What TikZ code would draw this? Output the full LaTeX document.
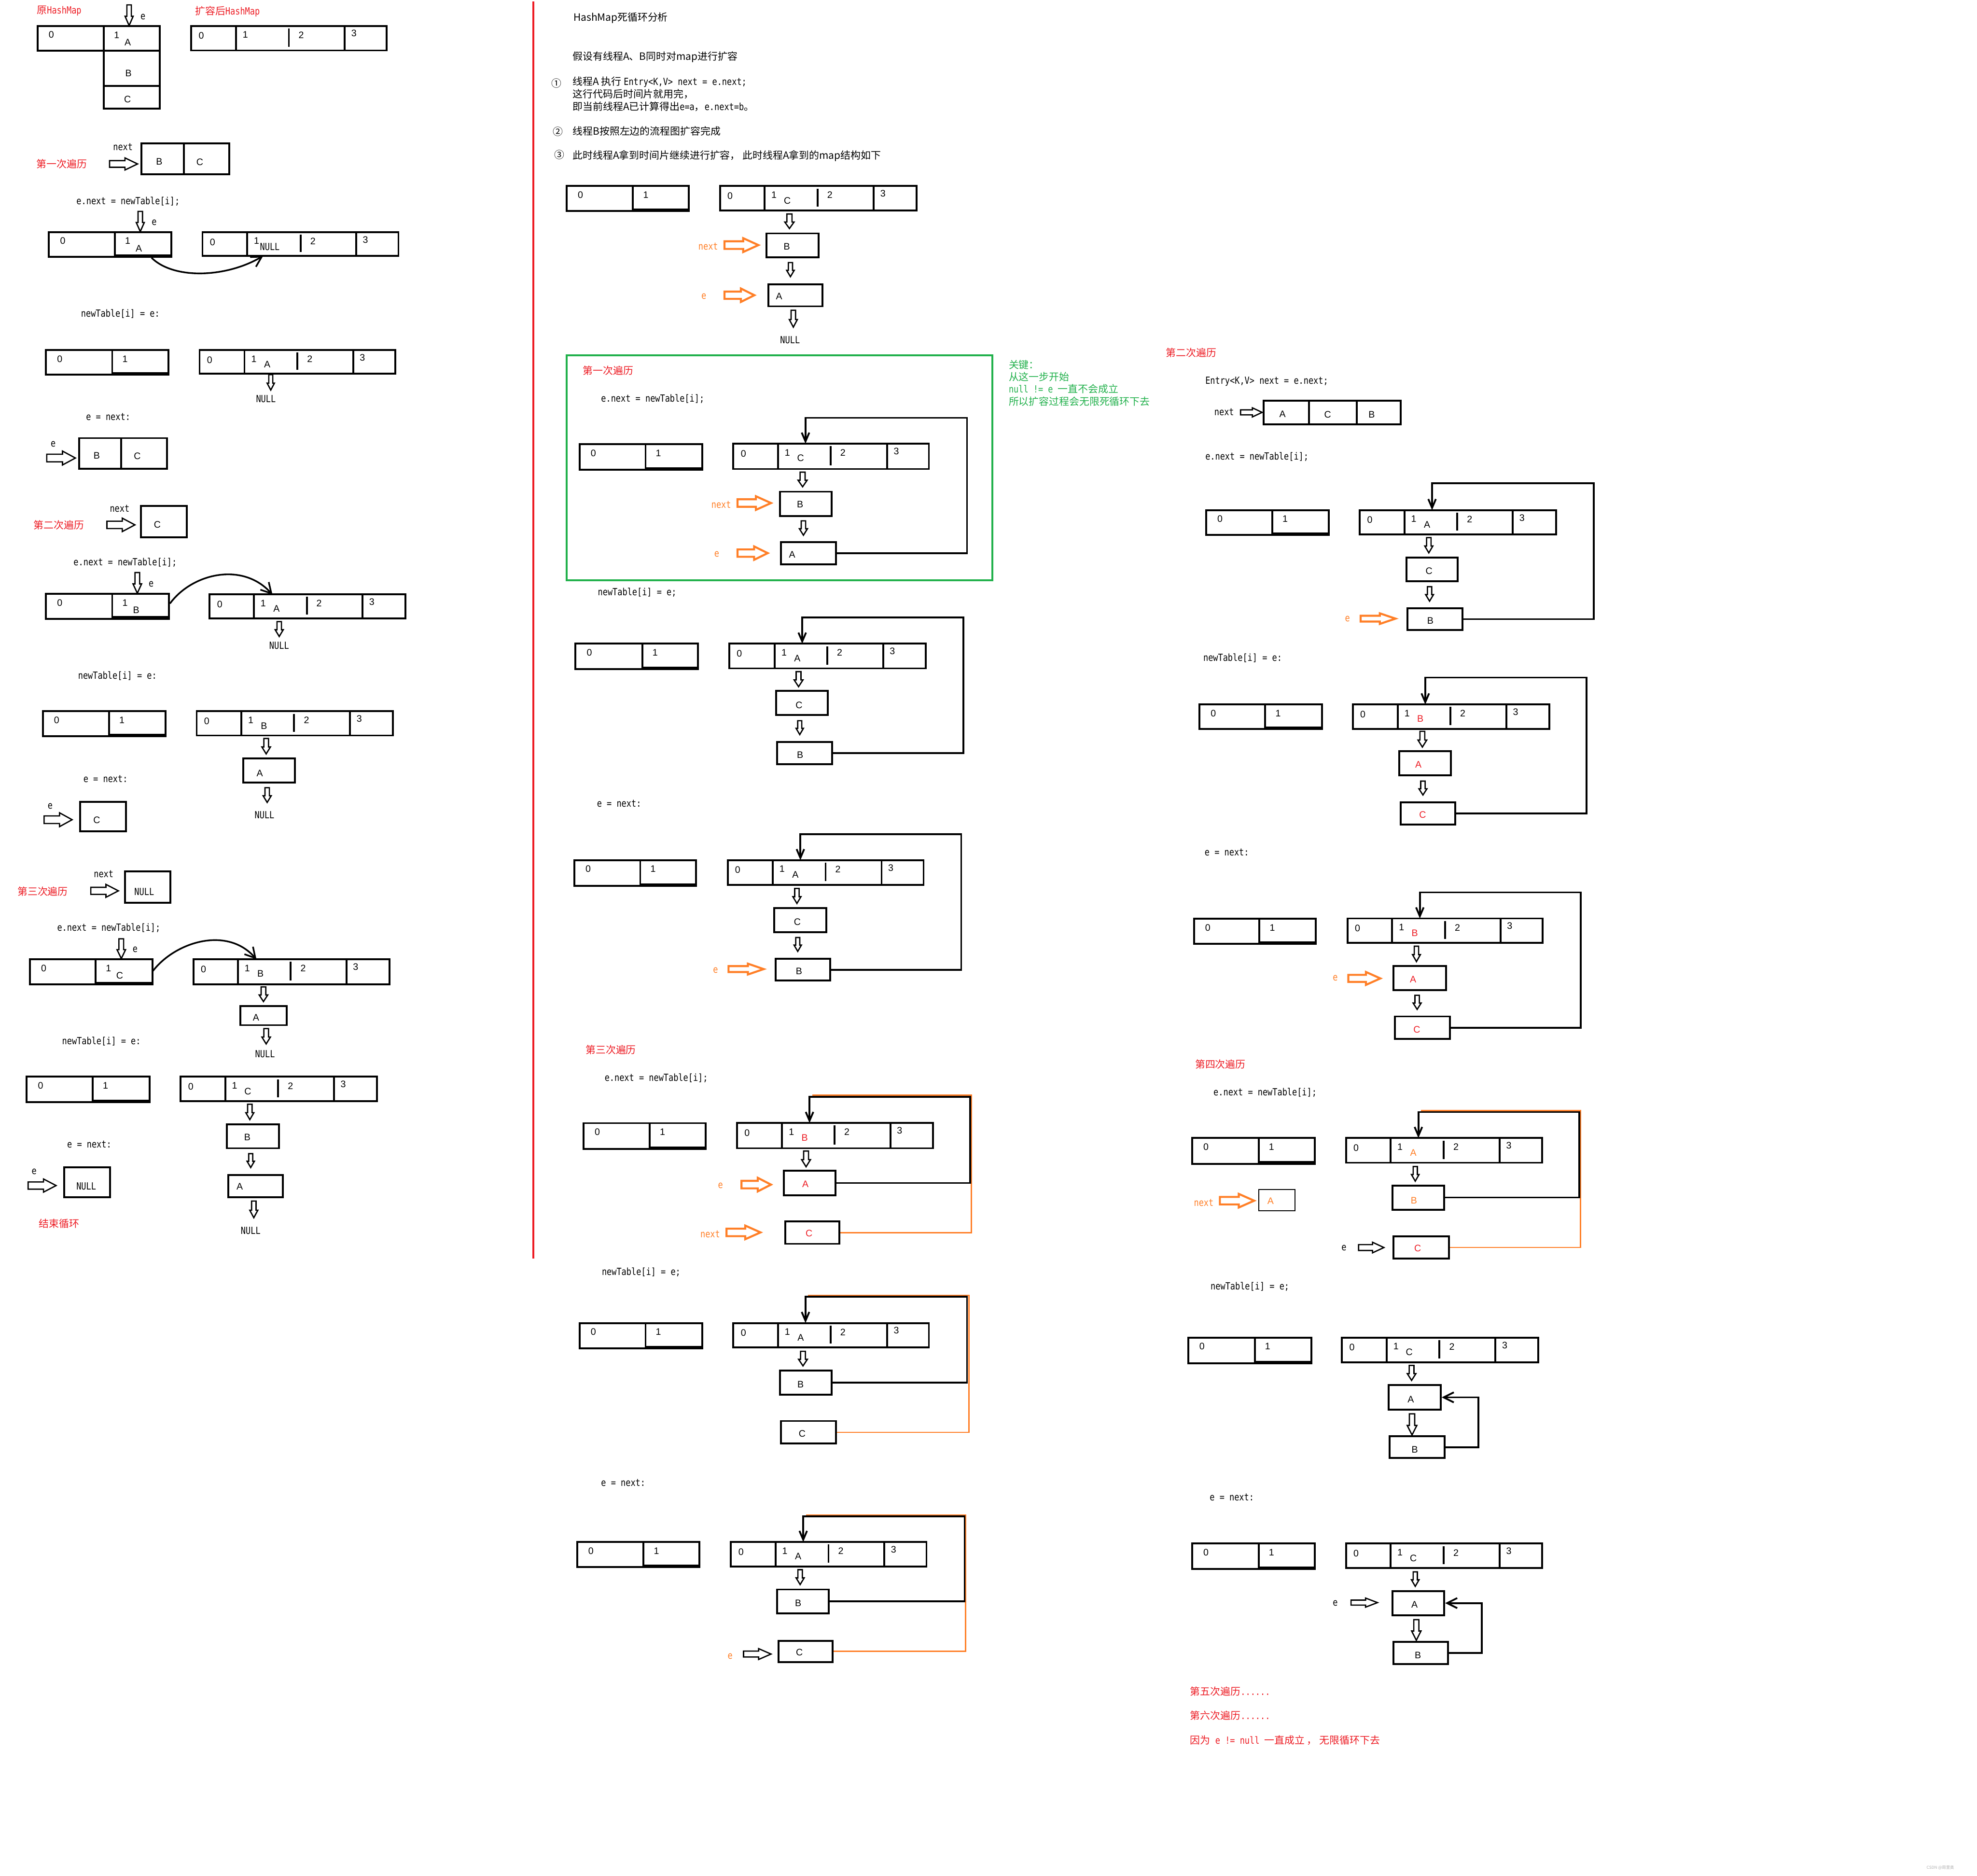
\documentclass[tikz,border=0pt]{standalone}
\usepackage{fontspec}
\setmainfont{Liberation Sans}
\newfontfamily\myzh{Noto Sans CJK SC}
\newfontfamily\mycd[FakeStretch=0.83]{DejaVu Sans Mono}
\usetikzlibrary{arrows.meta}
\definecolor{pred}{HTML}{ED1C24}
\definecolor{porange}{HTML}{FF7F27}
\definecolor{pgreen}{HTML}{22B14C}
\newcommand\ZH{\myzh\fontsize{8mm}{9.6mm}\selectfont}
\newcommand\CDT{\mycd\fontsize{7.8mm}{9.4mm}\selectfont}
\newcommand\LBL{\fontsize{7.5mm}{9mm}\selectfont}
% 4-cell table: name x1 y1 x2 y2 d1 d2 d3 letter
\newcommand\mkQT[9]{%
 \draw[tbl] (#2,#3) rectangle (#4,#5);
 \draw[tbl] (#6,#3) -- (#6,#5) (#8,#3) -- (#8,#5);
 \draw[tbl] (#7,{#3+2}) -- (#7,{#5-3});
 \coordinate (#1) at (#2,#3);
 \coordinate (#1-in) at ({(#6+#7)/2+1},#3);
 \node[lbl] (#1-0) at ({#2+8},{#3+7.8}) {0};
 \node[lbl] (#1-1) at ({#6+7.5},{#3+7}) {1};
 \node[lbl] (#1-2) at ({#7+9.8},{#3+7.2}) {2};
 \node[lbl] (#1-3) at ({#8+7.3},{#3+6}) {3};
 \node[lbl] (#1-x) at ({#6+18},{#3+11.5}) {#9};
}
% 2-cell table: name x1 y1 x2 y2 d letter
\newcommand\mkTT[7]{%
 \draw[tbl] (#2,#3) rectangle (#4,#5);
 \draw[tbl] (#6,#3) -- (#6,#5);
 \fill (#6,{#5-2}) rectangle (#4,#5);
 \coordinate (#1) at (#2,#3);
 \node[lbl] (#1-0) at ({#2+11},{#3+7}) {0};
 \node[lbl] (#1-1) at ({#6+10.2},{#3+7}) {1};
 \node[lbl] (#1-x) at ({#6+19},{#3+12.8}) {#7};
}
% box: name x1 y1 x2 y2 lx ly label
\newcommand\mkBX[8]{%
 \node[box,minimum width={(#4-#2)*1mm},minimum height={(#5-#3)*1mm}] (#1) at ({(#2+#4)/2},{(#3+#5)/2}) {};
 \node[lbl] (#1-l) at (#6,#7) {#8};
}
% hollow down arrow: style cx top bottom halfwidth
\newcommand\mkHD[5]{%
 \draw[#1] ({#2-0.55*#5},#3) -- ({#2+0.55*#5},#3) -- ({#2+0.55*#5},{#4-0.45*(#4-#3)}) -- ({#2+#5},{#4-0.45*(#4-#3)}) -- (#2,#4) -- ({#2-#5},{#4-0.45*(#4-#3)}) -- ({#2-0.55*#5},{#4-0.45*(#4-#3)}) -- cycle;
}
% hollow right arrow: style left right cy halfheight
\newcommand\mkHR[5]{%
 \draw[#1] (#2,{#4-0.55*#5}) -- ({#3-0.45*(#3-#2)},{#4-0.55*#5}) -- ({#3-0.45*(#3-#2)},{#4-#5}) -- (#3,#4) -- ({#3-0.45*(#3-#2)},{#4+#5}) -- ({#3-0.45*(#3-#2)},{#4+0.55*#5}) -- (#2,{#4+0.55*#5}) -- cycle;
}
\begin{document}
\begin{tikzpicture}[x=1mm,y=-1mm,
 t/.style={inner sep=0pt,anchor=west},
 c/.style={inner sep=0pt},
 lbl/.style={inner sep=0pt,font=\LBL},
 tbl/.style={line width=1.5mm},
 box/.style={draw,line width=1.5mm,inner sep=0pt},
 harr/.style={draw,line width=1mm,fill=white,line join=miter},
 oarr/.style={draw=porange,line width=1.6mm,fill=white,line join=miter},
 lp/.style={line width=1.4mm},
 olp/.style={draw=porange,line width=1mm},
 tipd/.style={-{Straight Barb[length=7mm,width=6mm]}},
 cv/.style={line width=1.3mm,-{Straight Barb[length=8mm,width=9mm]}}]
\fill[white] (0,0) rectangle (1568,1487.4);
\useasboundingbox (0,0) rectangle (1568,1487.4);

%================ COLUMN 1 ================
\node[t,text=pred] (h0) at (29.2,8.6) {\ZH 原{\CDT HashMap}};
\mkHD{harr}{102.4}{3.9}{20.3}{3.2}
\node[c] (h0e) at (113.4,13.3) {\CDT e};
\draw[tbl] (29.7,20.8) rectangle (126.7,40.2);
\draw[tbl] (82.2,20.8) -- (82.2,40.2);
\node[lbl] (o0) at (40.7,27.4) {0};
\node[lbl] (o1) at (92.6,27.8) {1};
\node[lbl] (oA) at (101.3,33.6) {A};
\mkBX{ob}{82.2}{40.2}{126.7}{68.1}{101.9}{58.2}{B}
\mkBX{oc}{82.2}{68.1}{126.7}{86.0}{101.1}{78.8}{C}
\node[t,text=pred] (h1) at (154.7,9.0) {\ZH 扩容后{\CDT HashMap}};
\mkQT{n0}{151.7}{20.5}{306.8}{40.0}{187.1}{229.1}{273.4}{}

\node[t,text=pred] (a1) at (29,129.9) {\ZH 第一次遍历};
\node[c] (a1n) at (97.5,116.7) {\CDT next};
\mkHR{harr}{86.9}{109.1}{130}{4.8}
\mkBX{r1n}{112.3}{113.7}{182.0}{138.3}{126.3}{128}{B}
\draw[tbl] (145.8,113.7) -- (145.8,138.3);
\node[lbl] (r1nC) at (158.5,128.4) {C};
\node[t] (a1c) at (60.6,159.5) {\CDT e.next = newTable[i];};
\mkHD{harr}{111.25}{167.6}{183.6}{3.2}
\node[c] (a1e) at (122.3,176.4) {\CDT e};
\mkTT{r1l}{38.8}{184.1}{135.8}{203.8}{91.1}{A}
\mkQT{r1r}{160.6}{184.1}{316.0}{202.9}{196.0}{238.4}{282.5}{\CDT NULL}
\coordinate (r1s) at (120.2,204.4);
\coordinate (r1e) at (208.7,202.9);
\draw[cv] (r1s) .. controls (138,222) and (180,220) .. (r1e);
\node[t] (a1d) at (64.2,248.9) {\CDT newTable[i] = e:};
\mkTT{r2l}{36.4}{277.6}{133.5}{297.1}{89.0}{}
\mkQT{r2r}{158.3}{277.6}{313.6}{296.4}{193.9}{235.9}{280.1}{A}
\mkHD{harr}{214.75}{297.1}{309.3}{2.9}
\node[c] (r2null) at (210.9,316.4) {\CDT NULL};
\node[t] (a1f) at (68.2,330.7) {\CDT e = next:};
\node[c] (r3e) at (42.2,352.3) {\CDT e};
\mkHR{harr}{37.1}{59.8}{363.2}{5.5}
\mkBX{r3n}{62.7}{347.4}{132.4}{371.8}{76.7}{361.3}{B}
\draw[tbl] (96.0,347.4) -- (96.0,371.8);
\node[lbl] (r3nC) at (108.9,361.7) {C};

\node[t,text=pred] (a2) at (26.5,416.5) {\ZH 第二次遍历};
\node[c] (a2n) at (94.9,403.2) {\CDT next};
\mkHR{harr}{84.8}{107.0}{416.2}{5.3}
\mkBX{r4n}{111.7}{401.3}{148.1}{425.9}{124.8}{415.9}{C}
\node[t] (a2c) at (58.3,446.0) {\CDT e.next = newTable[i];};
\mkHD{harr}{108.9}{454}{470.4}{3.4}
\node[c] (a2e) at (119.9,463.2) {\CDT e};
\mkTT{r4l}{36.4}{470.9}{133.9}{490.6}{89.0}{B}
\mkQT{r4r}{166.3}{471.3}{321.5}{490.4}{201.3}{243.3}{287.6}{A}
\coordinate (r4s) at (134.8,478.6);
\coordinate (r4e) at (216.1,471.5);
\draw[cv] (r4s) .. controls (152,455) and (192,445) .. (r4e);
\mkHD{harr}{221.45}{492.9}{504.7}{3.2}
\node[c] (r4null) at (221.4,512) {\CDT NULL};
\node[t] (a2d) at (61.9,536) {\CDT newTable[i] = e:};
\mkTT{r5l}{33.9}{564}{131.4}{583.9}{86.5}{}
\mkQT{r5r}{156.0}{564}{311.5}{583.2}{191.4}{233.3}{277.6}{B}
\mkHD{harr}{211.1}{585.6}{597.8}{3.4}
\mkBX{r5a}{192.8}{601.4}{233.9}{620.7}{206.0}{613.2}{A}
\mkHD{harr}{211.9}{624.6}{636.3}{3.2}
\node[c] (r5null) at (209.8,646.4) {\CDT NULL};
\node[t] (a2f) at (66.1,617.5) {\CDT e = next:};
\node[c] (r6e) at (39.8,639.1) {\CDT e};
\mkHR{harr}{35.0}{57.2}{650}{5.5}
\mkBX{r6n}{63.6}{635.7}{100.0}{659.2}{76.7}{650.2}{C}

\node[t,text=pred] (a3) at (13.8,706.8) {\ZH 第三次遍历};
\node[c] (a3n) at (82.2,693.2) {\CDT next};
\mkHR{harr}{72}{93.9}{706.4}{5.1}
\mkBX{r7n}{99}{691.1}{135.2}{715.9}{114.4}{707.2}{\CDT NULL}
\node[t] (a3c) at (45.3,735.9) {\CDT e.next = newTable[i];};
\mkHD{harr}{96.2}{744.4}{760.1}{3.4}
\node[c] (a3e) at (107.2,753.0) {\CDT e};
\mkTT{r7l}{23.7}{760.7}{120.8}{780.6}{75.9}{C}
\mkQT{r7r}{153.4}{760.7}{308.8}{780.4}{188.6}{230.6}{274.8}{B}
\coordinate (r7s) at (121.4,769.8);
\coordinate (r7e) at (203.4,760.7);
\draw[cv] (r7s) .. controls (139,747) and (180,734) .. (r7e);
\mkHD{harr}{208.95}{782.6}{794.2}{3.4}
\mkBX{r7a}{190.7}{797.7}{227.4}{812.9}{203}{806.8}{A}
\mkHD{harr}{211.1}{815.6}{827.8}{3.4}
\node[c] (r7null) at (210.2,835.9) {\CDT NULL};
\node[t] (a3d) at (49.2,825.7) {\CDT newTable[i] = e:};
\mkTT{r8l}{21.2}{853.8}{118.7}{873.9}{73.5}{}
\mkQT{r8r}{143.3}{853.8}{298.8}{873.1}{178.6}{220.6}{264.9}{C}
\mkHD{harr}{198.15}{875.6}{887.8}{3.2}
\mkBX{r8b}{179.9}{891.4}{221.2}{910.5}{196.2}{901.8}{B}
\mkHD{harr}{198.85}{914.8}{925.8}{2.9}
\mkBX{r8a}{181}{931.7}{224.4}{949.2}{190.1}{941.0}{A}
\mkHD{harr}{201.3}{952.4}{965.6}{3.2}
\node[c] (r8null) at (198.8,975.8) {\CDT NULL};
\node[t] (a3f) at (53.2,907.5) {\CDT e = next:};
\node[c] (r9e) at (27.1,929.0) {\CDT e};
\mkHR{harr}{22.3}{44.5}{940.1}{5.2}
\mkBX{r9n}{50.9}{925.8}{87.3}{949.4}{68.4}{940.6}{\CDT NULL}
\node[t,text=pred] (a3g) at (30.7,970.1) {\ZH 结束循环};

%================ COLUMN 2 ================
\draw[pred,line width=1.3mm] (423,1) -- (423,998);
\node[t] (b0) at (454.8,14.2) {\ZH HashMap死循环分析};
\node[t] (d1) at (454.2,45.3) {\ZH 假设有线程A、B同时对map进行扩容};
\node[c] (m1) at (441.3,66.1) {\ZH ①};
\node[t] (d2) at (454.2,65.2) {\ZH 线程A 执行 {\CDT Entry<K,V> next = e.next;}};
\node[t] (d3) at (454.2,74.6) {\ZH 这行代码后时间片就用完，};
\node[t] (d4) at (454.2,84.4) {\ZH 即当前线程A已计算得出{\CDT e=a}，{\CDT e.next=b}。};
\node[c] (m2) at (442.6,104.5) {\ZH ②};
\node[t] (d5) at (454.2,103.9) {\ZH 线程B按照左边的流程图扩容完成};
\node[c] (m3) at (443.6,122.9) {\ZH ③};
\node[t] (d6) at (454.2,123.5) {\ZH 此时线程A拿到时间片继续进行扩容， 此时线程A拿到的map结构如下};

\mkTT{s0l}{449.4}{147.5}{546.3}{167.3}{502.0}{}
\mkQT{s0r}{571.0}{147.5}{726.8}{167.0}{606.4}{648.4}{693.0}{C}
\mkHD{harr}{626.1}{169.7}{181.2}{3.7}
\node[c,text=porange] (s0nx) at (561.7,195.4) {\CDT next};
\mkHR{oarr}{574.6}{601.5}{194.35}{5.5}
\mkBX{s0b}{608}{185.1}{649.1}{203.9}{624}{195.4}{B}
\mkHD{harr}{626.9}{208.2}{219.4}{3}
\node[c,text=porange] (s0e) at (558.2,234.9) {\CDT e};
\mkHR{oarr}{574.6}{598.3}{234.1}{5.3}
\mkBX{s0a}{609.6}{225.3}{652.3}{242.9}{617.9}{234.9}{A}
\mkHD{harr}{629.2}{246}{259.4}{3.2}
\node[c] (s0null) at (626.6,269.7) {\CDT NULL};

\draw[pgreen,line width=1.6mm] (449.4,281.6) rectangle (787.1,460.0);
\node[t,text=pred] (b1) at (462.2,293.8) {\ZH 第一次遍历};
\node[t] (b1c) at (476.7,316.2) {\CDT e.next = newTable[i];};
\mkTT{s1l}{459.6}{352.2}{556.9}{372.5}{512.0}{}
\mkQT{s1r}{581.6}{351.8}{736.7}{371.9}{617.0}{658.7}{703.6}{C}
\mkHD{harr}{636.55}{374.4}{386}{3.6}
\node[c,text=porange] (s1nx) at (572,400.4) {\CDT next};
\mkHR{oarr}{584.9}{611.5}{398.9}{5.4}
\mkBX{s1b}{618.6}{389.9}{659.7}{409.1}{634.6}{400}{B}
\mkHD{harr}{637.2}{413}{424.4}{3.2}
\node[c,text=porange] (s1e) at (568.5,439.6) {\CDT e};
\mkHR{oarr}{584.9}{608.9}{438.6}{5.3}
\mkBX{s1a}{619.5}{429.9}{662.9}{447.6}{628.2}{439.6}{A}
\draw[lp,tipd] (s1a.east) -| (766.9,331.3) -| (s1r-in);
\node[t,text=pgreen] (g1) at (800,289.3) {\ZH 关键：};
\node[t,text=pgreen] (g2) at (800,298.7) {\ZH 从这一步开始};
\node[t,text=pgreen] (g3) at (800,308.5) {\ZH {\CDT null != e }一直不会成立};
\node[t,text=pgreen] (g4) at (800,318.3) {\ZH 所以扩容过程会无限死循环下去};

\node[t] (b1d) at (474.1,469.7) {\CDT newTable[i] = e;};
\mkTT{s2l}{456.4}{510.4}{553.7}{530.6}{509.4}{}
\mkQT{s2r}{578.4}{510.4}{734.2}{530.0}{614.4}{656.1}{700.4}{A}
\mkHD{harr}{633.35}{532.6}{544.5}{3.5}
\mkBX{s2c}{615.4}{547.8}{656.4}{566.9}{633.7}{559.0}{C}
\mkHD{harr}{634.3}{571.5}{582.5}{2.9}
\mkBX{s2b}{616.3}{588.3}{660.0}{605.9}{634.6}{598.7}{B}
\draw[lp,tipd] (s2b.east) -| (764,489.5) -| (s2r-in);

\node[t] (b1f) at (473.4,637.1) {\CDT e = next:};
\mkTT{s3l}{455.5}{682.1}{552.1}{702.5}{507.8}{}
\mkQT{s3r}{577.1}{682.1}{732.5}{701.8}{612.8}{654.8}{699.2}{A}
\mkHD{harr}{632.05}{704.5}{716.4}{3.2}
\mkBX{s3c}{614.1}{719.9}{655.5}{739.2}{632.4}{730.9}{C}
\mkHD{harr}{632.7}{743.4}{754.4}{2.9}
\node[c,text=porange] (s3e) at (567.5,769.3) {\CDT e};
\mkHR{oarr}{577.8}{605.7}{768.45}{4.3}
\mkBX{s3b}{615.0}{760.4}{658.4}{777.6}{633.7}{770.3}{B}
\draw[lp,tipd] (s3b.east) -| (762.4,661.4) -| (s3r-in);

\node[t,text=pred] (b3) at (464.4,832.5) {\ZH 第三次遍历};
\node[t] (b3c) at (479.5,854.7) {\CDT e.next = newTable[i];};
\mkTT{s4l}{462.8}{890.6}{559.8}{911.1}{515.2}{}
\mkQT{s4r}{584.5}{890.5}{739.9}{910.5}{620.2}{661.9}{706.2}{\color{pred}B}
\mkHD{harr}{639.3}{912.7}{925.2}{3.5}
\node[c,text=porange] (s4e) at (571.4,940.3) {\CDT e};
\mkHR{oarr}{588.1}{611.5}{939.35}{5.4}
\mkBX{s4a}{621.8}{928.4}{662.6}{947.7}{638.8}{939.1}{\color{pred}A}
\node[c,text=porange] (s4nx) at (563.3,978.6) {\CDT next};
\mkHR{oarr}{576.2}{603.2}{977.25}{5.4}
\mkBX{s4c}{622.7}{968.6}{665.8}{986.3}{641.7}{978}{\color{pred}C}
\draw[olp] (s4c.east) -| (770.3,868.4) -- (644.2,868.4);
\draw[lp,tipd] (s4a.east) -| (769.5,869.7) -| (s4r-in);

\node[t] (b3d) at (477.3,1008.8) {\CDT newTable[i] = e;};
\mkTT{s5l}{459.6}{1049.1}{556.9}{1069.2}{512.0}{}
\mkQT{s5r}{581.6}{1049.1}{736.7}{1068.4}{617.0}{658.7}{703.6}{A}
\mkHD{harr}{636.85}{1071.5}{1083.1}{3.5}
\mkBX{s5b}{618.6}{1086.7}{659.7}{1106.0}{634.9}{1097.7}{B}
\mkBX{s5c}{619.5}{1126.8}{662.9}{1144.7}{636.2}{1136.9}{C}
\draw[olp] (s5c.east) -| (768.5,1027.0) -- (641,1027.0);
\draw[lp,tipd] (s5b.east) -| (766.9,1028.2) -| (s5r-in);

\node[t] (b3f) at (476.7,1175.6) {\CDT e = next:};
\mkTT{s6l}{457.7}{1222.7}{554.7}{1242.7}{510.4}{}
\mkQT{s6r}{579.7}{1222.7}{734.8}{1242.1}{615.0}{657.1}{701.4}{A}
\mkHD{harr}{634.6}{1244.7}{1256.5}{3.2}
\mkBX{s6b}{616.3}{1260.4}{657.4}{1279.3}{633}{1271.2}{B}
\node[c,text=porange] (s6e) at (579.1,1313.4) {\CDT e};
\mkHR{harr}{589.7}{611.5}{1311.6}{4.3}
\mkBX{s6c}{617.6}{1301.0}{660.3}{1317.9}{634}{1310.4}{C}
\draw[olp] (s6c.east) -| (765.8,1201.3) -- (639.1,1201.3);
\draw[lp,tipd] (s6b.east) -| (765,1202.4) -| (s6r-in);

%================ COLUMN 3 ================
\node[t,text=pred] (c2) at (924.7,279.8) {\ZH 第二次遍历};
\node[t] (c2a) at (955.9,302.4) {\CDT Entry<K,V> next = e.next;};
\node[c] (c2n) at (970.9,326.9) {\CDT next};
\mkHR{harr}{983.9}{1001}{327}{3.6}
\mkBX{t0n}{1002.1}{317.9}{1110.8}{336.4}{1017.2}{328.4}{A}
\draw[tbl] (1038.2,317.9) -- (1038.2,336.4) (1076.1,317.9) -- (1076.1,336.4);
\node[lbl] (t0nC) at (1053,328.7) {C};
\node[lbl] (t0nB) at (1087.9,328.9) {B};
\node[t] (c2c) at (955.9,362) {\CDT e.next = newTable[i];};
\mkTT{t1l}{956.6}{404.5}{1053.7}{424.1}{1009.1}{}
\mkQT{t1r}{1078.4}{404.5}{1234.0}{423.6}{1113.8}{1155.8}{1199.8}{A}
\mkHD{harr}{1133.2}{426.3}{438.4}{3.2}
\mkBX{t1c}{1115.4}{442.1}{1156.1}{460.9}{1133.4}{452.6}{C}
\mkHD{harr}{1133.8}{465.2}{476.7}{3.1}
\node[c,text=porange] (t1e) at (1068.7,490.9) {\CDT e};
\mkHR{oarr}{1079.1}{1106.8}{490.55}{4.2}
\mkBX{t1b}{1116.1}{482.2}{1160.0}{499.7}{1134.4}{492.2}{B}
\draw[lp,tipd] (t1b.east) -| (1264,383.3) -| (t1r-in);

\node[t] (c2d) at (954.3,521.8) {\CDT newTable[i] = e:};
\mkTT{t2l}{951.3}{558.6}{1048.4}{578.1}{1003.5}{}
\mkQT{t2r}{1072.9}{558.6}{1228.7}{577.9}{1108.5}{1150.3}{1194.7}{\color{pred}B}
\mkHD{harr}{1128.1}{579.9}{592.4}{3.5}
\mkBX{t2a}{1109.6}{595.6}{1150.8}{614.9}{1124.9}{606.2}{\color{pred}A}
\mkHD{harr}{1128.55}{619.4}{630.4}{3.2}
\mkBX{t2c}{1111}{636.2}{1154.2}{653.7}{1128.3}{646.2}{\color{pred}C}
\draw[lp,tipd] (t2c.east) -| (1258.3,537.3) -| (t2r-in);

\node[t] (c2f) at (955.4,675.9) {\CDT e = next:};
\mkTT{t3l}{946.9}{728.6}{1043.7}{748.3}{998.9}{}
\mkQT{t3r}{1068.7}{728.3}{1223.6}{747.7}{1104.1}{1146.1}{1190.1}{\color{pred}B}
\mkHD{harr}{1123.4}{750.3}{762.5}{3.1}
\node[c,text=porange] (t3e) at (1059,775.6) {\CDT e};
\mkHR{oarr}{1069.4}{1094.8}{775.85}{5.1}
\mkBX{t3a}{1105.2}{766}{1146.8}{785.1}{1120.7}{776.8}{\color{pred}A}
\mkHD{harr}{1123.95}{789.2}{800.4}{3.2}
\mkBX{t3c}{1106.4}{806}{1150.1}{823.9}{1123.7}{816.3}{\color{pred}C}
\draw[lp,tipd] (t3c.east) -| (1253.6,707.6) -| (t3r-in);

\node[t,text=pred] (c4) at (947.8,844) {\ZH 第四次遍历};
\node[t] (c4c) at (962.4,866.2) {\CDT e.next = newTable[i];};
\mkTT{t4l}{945.5}{902.4}{1042.8}{922.8}{998.2}{}
\mkQT{t4r}{1067.5}{902.4}{1222.9}{922}{1102.9}{1145.0}{1189.4}{\color{porange}A}
\mkHD{harr}{1122.45}{925}{936.6}{3}
\node[c,text=porange] (t4nx) at (954.7,953.7) {\CDT next};
\mkHR{oarr}{967.5}{994.7}{952.1}{5.4}
\node[draw,line width=0.8mm,inner sep=0pt,minimum width=28.9mm,minimum height=16.7mm] (t4n) at (1012.65,951.65) {};
\node[lbl,text=porange] (t4nA) at (1007.7,952.5) {A};
\mkBX{t4b}{1104.5}{940}{1145.4}{959.2}{1121.4}{951.8}{\color{porange}B}
\node[c] (t4e) at (1065.9,989.6) {\CDT e};
\mkHR{harr}{1077.5}{1097.6}{989.25}{4.2}
\mkBX{t4c}{1105.2}{980.4}{1149.1}{997.9}{1124.4}{989.7}{\color{pred}C}
\draw[olp] (t4c.east) -| (1253.4,880.6) -- (1127,880.6);
\draw[lp,tipd] (t4b.east) -| (1252.6,881.8) -| (t4r-in);

\node[t] (c4d) at (960.1,1020.1) {\CDT newTable[i] = e;};
\mkTT{t5l}{942.3}{1060.7}{1040.0}{1081.0}{995.2}{}
\mkQT{t5r}{1064.3}{1060.7}{1219.9}{1080.4}{1099.7}{1141.7}{1186.1}{C}
\mkHD{harr}{1119.55}{1082.7}{1094.6}{3.4}
\mkBX{t5a}{1101.5}{1098.4}{1142.7}{1117.7}{1118.9}{1109.6}{A}
\mkHD{harr}{1119.9}{1121.1}{1137.9}{3.8}
\mkBX{t5b}{1102.2}{1138.9}{1145.7}{1156.2}{1122.1}{1149.5}{B}
\draw[lp,-{Straight Barb[length=8mm,width=8mm]}] (t5b.east) -- ++(26,0) |- (t5a.east);

\node[t] (c4f) at (959.4,1187.4) {\CDT e = next:};
\mkTT{t6l}{945.5}{1224}{1042.8}{1244.2}{998.2}{}
\mkQT{t6r}{1067.5}{1224}{1222.9}{1243.3}{1102.9}{1145.0}{1189.4}{C}
\mkHD{harr}{1122.45}{1246.4}{1257.9}{3}
\node[c] (t6e) at (1059,1271.4) {\CDT e};
\mkHR{harr}{1071.5}{1092.5}{1270.8}{3.6}
\mkBX{t6a}{1104.5}{1261.6}{1145.4}{1280.8}{1121.9}{1272.4}{A}
\mkHD{harr}{1123.3}{1284.3}{1300.7}{3.7}
\mkBX{t6b}{1105.2}{1302}{1148.5}{1319.4}{1124.6}{1312.6}{B}
\draw[lp,-{Straight Barb[length=8mm,width=8mm]}] (t6b.east) -- ++(26,0) |- (t6a.east);

\node[t,text=pred] (c5) at (943.9,1341.1) {\ZH 第五次遍历{\CDT ......}};
\node[t,text=pred] (c6) at (943.9,1360.4) {\ZH 第六次遍历{\CDT ......}};
\node[t,text=pred] (c7) at (943.9,1380.0) {\ZH 因为{\CDT\ e != null\ }一直成立 ， 无限循环下去};
\node[t,text=gray!60] (ft) at (1528,1481) {\myzh\fontsize{3.2mm}{4mm}\selectfont CSDN @周里奥};
\end{tikzpicture}
\end{document}
